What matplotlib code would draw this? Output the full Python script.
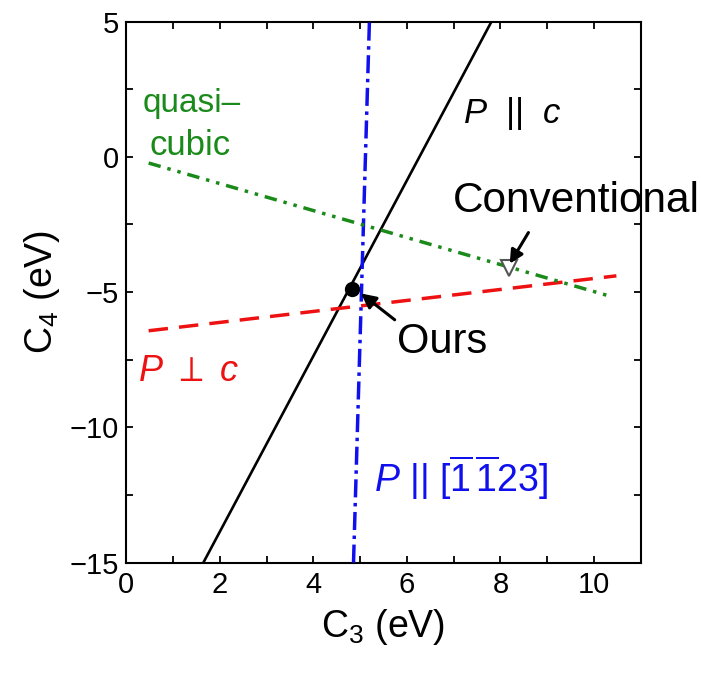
import matplotlib.pyplot as plt
from matplotlib.ticker import MultipleLocator

plt.rcParams['font.family'] = ['Liberation Sans', 'DejaVu Sans']
plt.rcParams['mathtext.fontset'] = 'custom'
plt.rcParams['mathtext.rm'] = 'Liberation Sans'
plt.rcParams['mathtext.it'] = 'Liberation Sans:italic'
plt.rcParams['lines.scale_dashes'] = False

# line endpoints (C3, C4) in eV
par_c_c3 = [1.65, 7.81]
par_c_c4 = [-15.0, 5.0]
par_1123_c3 = [4.86, 5.20]
par_1123_c4 = [-15.0, 5.0]
perp_c_c3 = [0.48, 10.48]
perp_c_c4 = [-6.43, -4.40]
quasi_c3 = [0.48, 10.38]
quasi_c4 = [-0.23, -5.17]

ours_c3, ours_c4 = 4.82, -4.9
conv_c3, conv_c4 = 8.18, -4.10

fig, ax = plt.subplots(figsize=(7.01, 6.73), dpi=100)
fig.subplots_adjust(left=0.180, right=0.914, bottom=0.164, top=0.968)

ax.plot(par_c_c3, par_c_c4, color='black', lw=1.9, solid_capstyle='butt', zorder=3)
ax.plot(par_1123_c3, par_1123_c4, color='#1010ee', lw=2.5,
        linestyle=(0, (13, 4, 2.5, 4)), zorder=3)
ax.plot(perp_c_c3, perp_c_c4, color='#ee1111', lw=2.5,
        linestyle=(0, (14, 8)), zorder=3)
ax.plot(quasi_c3, quasi_c4, color='#1a8a1a', lw=2.5,
        linestyle=(0, (9, 5, 2.5, 5, 2.5, 5)), zorder=3)

ax.plot(ours_c3, ours_c4, 'o', color='black', ms=10, zorder=5)
ax.plot(conv_c3, conv_c4, 'v', mfc='white', mec='#555555', mew=1.5, ms=11, zorder=5)

ax.annotate('Ours', xy=(ours_c3 + 0.2, ours_c4 - 0.15), xytext=(5.8, -7.25),
            fontsize=30, va='baseline', ha='left',
            arrowprops=dict(arrowstyle='-|>', color='black', lw=2.2,
                            mutation_scale=22, shrinkA=0, shrinkB=0,
                            relpos=(0.0, 1.0)),
            zorder=6)
ax.annotate('', xy=(conv_c3 + 0.02, conv_c4 + 0.15), xytext=(8.6, -2.8),
            arrowprops=dict(arrowstyle='-|>', color='black', lw=2.2,
                            mutation_scale=20, shrinkA=0, shrinkB=0),
            zorder=6)
ax.text(6.98, -2.05, 'Conventional', fontsize=30.5, ha='left', va='baseline')

ax.text(0.35, 1.65, 'quasi\u2013', color='#1a8a1a', fontsize=24, ha='left')
ax.text(0.5, 0.05, 'cubic', color='#1a8a1a', fontsize=25, ha='left')
ax.text(7.2, 1.25, r'$P$  ||  $c$', fontsize=25, ha='left')
ax.text(0.25, -8.3, r'$P$ $\perp$ $c$', color='#ee1111', fontsize=26, ha='left')
ax.text(5.3, -12.4, r'$P$ || [$\overline{1}\,\overline{1}$23]', color='#1010ee',
        fontsize=27, ha='left')

ax.set_xlim(0, 11)
ax.set_ylim(-15, 5)
ax.xaxis.set_major_locator(MultipleLocator(2))
ax.xaxis.set_minor_locator(MultipleLocator(1))
ax.yaxis.set_major_locator(MultipleLocator(5))
ax.yaxis.set_minor_locator(MultipleLocator(2.5))
ax.tick_params(which='both', direction='in', top=True, right=True,
               length=5, width=1.3, labelsize=21)
ax.tick_params(axis='x', pad=6)
ax.tick_params(axis='y', pad=5)
for s in ax.spines.values():
    s.set_linewidth(1.5)

ax.set_xlabel(r'C$_3$ (eV)', fontsize=27, labelpad=6)
ax.set_ylabel(r'C$_4$ (eV)', fontsize=27, labelpad=6)

fig.savefig('out.png', dpi=100)
